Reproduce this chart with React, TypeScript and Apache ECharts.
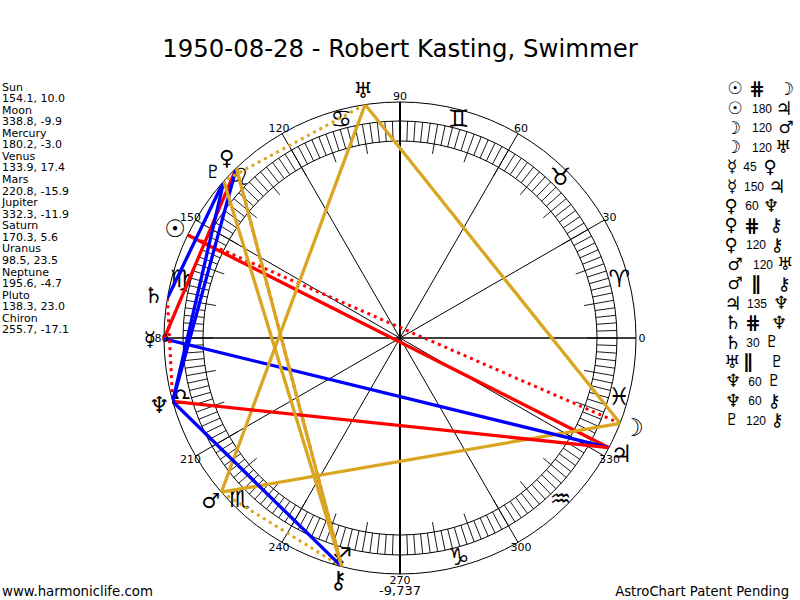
import React, { useEffect, useRef } from "react";
import * as echarts from "echarts";

const titleText = "1950-08-28 - Robert Kasting, Swimmer";
const planetNames = ["Sun", "Moon", "Mercury", "Venus", "Mars", "Jupiter", "Saturn", "Uranus", "Neptune", "Pluto", "Chiron"];
const longitudes = [154.1, 338.8, 180.2, 133.9, 220.8, 332.3, 170.3, 98.5, 195.6, 138.3, 255.7];
const declinations = [10.0, -9.9, -3.0, 17.4, -15.9, -11.9, 5.6, 23.5, -4.7, 23.0, -17.1];
const planetGlyphs = ["☉", "☽", "☿", "♀", "♂", "♃", "♄", "♅", "♆", "♇", "⚷"];
const zodiacGlyphs = ["♈", "♉", "♊", "♋", "♌", "♍", "♎", "♏", "♐", "♑", "♒", "♓"];
const aspectFrom = [0, 0, 1, 1, 2, 2, 3, 3, 3, 4, 4, 5, 6, 6, 7, 8, 8, 9];
const aspectTo = [1, 5, 4, 7, 3, 5, 8, 10, 10, 7, 10, 8, 8, 9, 9, 9, 10, 10];
const aspectLabels = ["#", "180", "120", "120", "45", "150", "60", "#", "120", "120", "||", "135", "#", "30", "||", "60", "60", "120"];
const angleTicks = [0, 30, 60, 90, 120, 150, 180, 210, 240, 270, 300, 330];
const lowerValue = "-9,737";

const R = { outer: 236, ringOut: 217, ringIn: 197, tenIn: 187, label: 242, zodiac: 227, planet: 250 };
const FONT = '"DejaVu Sans", sans-serif';
const midX = [757, 762, 762, 762, 750, 754, 752, 752, 756, 763, 756, 757, 753, 753, 748, 755, 755, 756];
const rightX = [786, 784, 786, 783, 770, 777, 771, 776, 777, 785, 784, 781, 779, 772, 777, 774, 774, 777];
const leftX = [735, 733, 732, 731, 735, 733, 733, 732, 733, 732, 732];
const chartGlyphSize = [24, 24, 20, 21, 21, 24, 22, 22, 23, 18, 24];
const tableGlyphSize = [17, 18, 17, 18, 17, 19, 19, 18, 18, 16, 18];
const boldGlyph = [true, true, false, false, false, false, false, false, false, false, false];

function styleOf(label: string) {
  if (label === "#") return { color: "#ff0000", dotted: true };
  if (label === "||") return { color: "#daa520", dotted: true };
  if (label === "120") return { color: "#daa520", dotted: false };
  if (label === "180" || label === "135" || label === "45") return { color: "#ff0000", dotted: false };
  return { color: "#0000ff", dotted: false };
}

function buildOption() {
  const ringDegrees: number[] = [];
  for (let a = 0; a < 360; a += 2) ringDegrees.push(a);

  const lineSeries = aspectLabels.map((label, i) => {
    const s = styleOf(label);
    return {
      type: "line",
      coordinateSystem: "polar",
      symbol: "none",
      silent: true,
      clip: false,
      z: 5,
      lineStyle: {
        color: s.color,
        width: s.dotted ? 3 : 3.3,
        type: s.dotted ? [3, 4] : "solid",
      },
      data: [
        [R.outer, longitudes[aspectFrom[i]]],
        [R.outer, longitudes[aspectTo[i]]],
      ],
    };
  });

  const textSeries = (data: any[][], z = 8) => ({
    type: "custom",
    coordinateSystem: "polar",
    silent: true,
    clip: false,
    z,
    data,
    renderItem: (_p: any, api: any) => {
      const [x, y] = api.coord([api.value(0), api.value(1)]);
      const idx = _p.dataIndex;
      const d = data[idx];
      return {
        type: "text",
        style: {
          text: d[2],
          x,
          y,
          align: "center",
          verticalAlign: "middle",
          font: `${d[4] ? "bold " : ""}${d[3]}px ${FONT}`,
          fill: "#000",
        },
      };
    },
  });

  const graphics: any[] = [
    { type: "text", style: { text: titleText, x: 400, y: 48, align: "center", verticalAlign: "middle", font: `24.4px ${FONT}`, fill: "#000" } },
    { type: "text", style: { text: "www.harmoniclife.com", x: 2, y: 591, verticalAlign: "middle", font: `13.3px ${FONT}`, fill: "#000" } },
    { type: "text", style: { text: "AstroChart Patent Pending", x: 789, y: 591, align: "right", verticalAlign: "middle", font: `13.2px ${FONT}`, fill: "#000" } },
    { type: "text", style: { text: lowerValue, x: 400, y: 590, align: "center", verticalAlign: "middle", font: `13px ${FONT}`, fill: "#000" } },
  ];
  planetNames.forEach((name, i) => {
    const y0 = 87 + i * 2 * 11.57;
    graphics.push({ type: "text", style: { text: name, x: 2, y: y0, verticalAlign: "middle", font: `11px ${FONT}`, fill: "#000" } });
    graphics.push({
      type: "text",
      style: { text: `${longitudes[i].toFixed(1)}, ${declinations[i].toFixed(1)}`, x: 2, y: y0 + 11.57, verticalAlign: "middle", font: `11px ${FONT}`, fill: "#000" },
    });
  });
  const glyphFont = (p: number) => `${boldGlyph[p] ? "bold " : ""}${tableGlyphSize[p]}px ${FONT}`;
  aspectLabels.forEach((label, i) => {
    const y = 88 + i * 19.5;
    const from = aspectFrom[i];
    const to = aspectTo[i];
    const symbolic = label === "#" || label === "||";
    graphics.push({ type: "text", style: { text: planetGlyphs[from], x: leftX[from], y, align: "center", verticalAlign: "middle", font: glyphFont(from), fill: "#000" } });
    graphics.push({
      type: "text",
      style: {
        text: label === "#" ? "⋕" : label === "||" ? "∥" : label,
        x: midX[i],
        y: y + (symbolic ? 0 : 1),
        align: "center",
        verticalAlign: "middle",
        font: symbolic ? `bold 19px ${FONT}` : `12px "Liberation Sans", sans-serif`,
        fill: "#000",
      },
    });
    graphics.push({ type: "text", style: { text: planetGlyphs[to], x: rightX[i], y, align: "center", verticalAlign: "middle", font: glyphFont(to), fill: "#000" } });
  });

  return {
    animation: false,
    backgroundColor: "#fff",
    polar: { center: [400, 338], radius: R.outer },
    angleAxis: {
      type: "value",
      min: 0,
      max: 360,
      interval: 30,
      startAngle: 0,
      clockwise: false,
      axisLine: { show: true, lineStyle: { color: "#000", width: 1 } },
      axisTick: { show: false },
      axisLabel: { show: false },
      splitLine: { show: true, lineStyle: { color: "#000", width: 1 } },
    },
    radiusAxis: { type: "value", min: 0, max: R.outer, show: false, splitLine: { show: false } },
    graphic: graphics,
    series: [
      textSeries(zodiacGlyphs.map((g, i) => [R.zodiac, 15 + i * 30, g, 24, false]), 1),
      {
        type: "custom",
        coordinateSystem: "polar",
        silent: true,
        clip: false,
        z: 2,
        data: [[R.ringOut], [R.ringIn]],
        renderItem: (_p: any, api: any) => {
          const c = api.coord([0, 0]);
          const e = api.coord([api.value(0), 0]);
          return {
            type: "circle",
            shape: { cx: c[0], cy: c[1], r: Math.abs(e[0] - c[0]) },
            style: { fill: "none", stroke: "#000", lineWidth: 1 },
          };
        },
      },
      {
        type: "custom",
        coordinateSystem: "polar",
        silent: true,
        clip: false,
        z: 2,
        data: ringDegrees,
        renderItem: (_p: any, api: any) => {
          const a = api.value(0);
          const inner = a % 10 === 0 ? R.tenIn : R.ringIn;
          const p0 = api.coord([inner, a]);
          const p1 = api.coord([R.ringOut, a]);
          return {
            type: "line",
            shape: { x1: p0[0], y1: p0[1], x2: p1[0], y2: p1[1] },
            style: { stroke: "#000", lineWidth: 0.9 },
          };
        },
      },
      ...[0, 90, 180, 270].map((a) => ({
        type: "line",
        coordinateSystem: "polar",
        symbol: "none",
        silent: true,
        clip: false,
        z: 3,
        lineStyle: { color: "#000", width: a % 180 === 0 ? 1 : 2 },
        data: [[0, a], [R.outer, a]],
      })),
      ...lineSeries,
      textSeries(angleTicks.map((a) => [R.label, a, String(a), 11, false])),
      textSeries(planetGlyphs.map((g, i) => [R.planet, longitudes[i], g, chartGlyphSize[i], boldGlyph[i]]), 9),
    ],
  };
}

export default function App() {
  const ref = useRef<HTMLDivElement>(null);
  useEffect(() => {
    const chart = echarts.init(ref.current!, undefined, { renderer: "svg" });
    chart.setOption(buildOption() as any);
    return () => chart.dispose();
  }, []);
  return <div ref={ref} style={{ position: "absolute", left: 0, top: 0, width: 800, height: 600 }} />;
}
